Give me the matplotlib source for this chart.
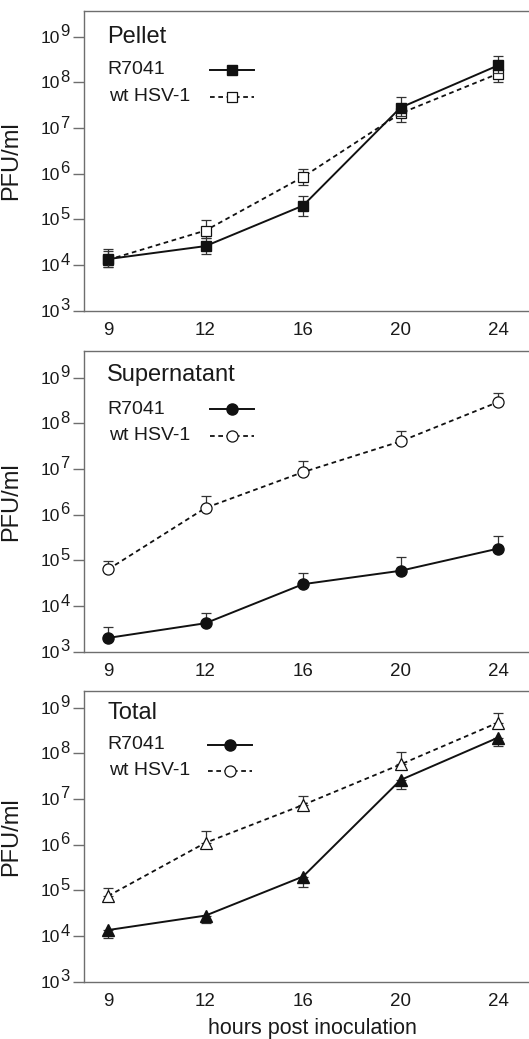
import numpy as np
import matplotlib
matplotlib.use("Agg")
import matplotlib.pyplot as plt

plt.rcParams['font.family'] = ['Liberation Sans', 'DejaVu Sans']

hours = ["9", "12", "16", "20", "24"]
y_exponents = [3, 4, 5, 6, 7, 8, 9]

# Pellet
pellet_r7041 = [1.35e4, 2.6e4, 2.0e5, 2.8e7, 2.35e8]
pellet_r7041_lo = [8.9e3, 1.75e4, 1.17e5, 1.8e7, 1.6e8]
pellet_r7041_hi = [2.2e4, 4.0e4, 3.2e5, 4.9e7, 3.7e8]
pellet_wt = [1.3e4, 5.7e4, 8.5e5, 2.1e7, 1.55e8]
pellet_wt_lo = [8.9e3, 4.0e4, 5.6e5, 1.35e7, 1.02e8]
pellet_wt_hi = [2.0e4, 9.5e4, 1.26e6, 3.2e7, 2.2e8]

# Supernatant
super_r7041 = [2.0e3, 4.2e3, 3.0e4, 5.9e4, 1.8e5]
super_r7041_lo = [2.0e3, 4.2e3, 3.0e4, 5.9e4, 1.8e5]
super_r7041_hi = [3.4e3, 7.1e3, 5.2e4, 1.2e5, 3.4e5]
super_wt = [6.3e4, 1.4e6, 8.5e6, 4.0e7, 2.9e8]
super_wt_lo = [6.3e4, 1.4e6, 8.5e6, 4.0e7, 2.9e8]
super_wt_hi = [9.8e4, 2.6e6, 1.5e7, 6.6e7, 4.6e8]

# Total
total_r7041 = [1.35e4, 2.8e4, 2.0e5, 2.6e7, 2.2e8]
total_r7041_lo = [8.9e3, 1.9e4, 1.2e5, 1.66e7, 1.45e8]
total_r7041_hi = [1.35e4, 2.8e4, 2.0e5, 2.6e7, 2.2e8]
total_wt = [7.5e4, 1.1e6, 7.4e6, 5.7e7, 4.7e8]
total_wt_lo = [7.5e4, 1.1e6, 7.4e6, 5.7e7, 4.7e8]
total_wt_hi = [1.12e5, 2.0e6, 1.17e7, 1.05e8, 7.6e8]

W, H = 529, 1039
fig = plt.figure(figsize=(W / 100, H / 100), dpi=100)

LEFT_PX, RIGHT_PX = 84, 540
SPINE_C = '#6e6e6e'
TXT_C = '#1a1a1a'

panels = [
    dict(title="Pellet", top=10.7, bottom=310.7, ytop=9.57, marker_r='s', marker_w='s',
         leg_marker='s', r=(pellet_r7041, pellet_r7041_lo, pellet_r7041_hi),
         w=(pellet_wt, pellet_wt_lo, pellet_wt_hi), ms=7.5,
         title_y=26, leg_y=(59, 86), leg_x=(210, 254), xlabel=False),
    dict(title="Supernatant", top=351, bottom=651.7, ytop=9.58, marker_r='o', marker_w='o',
         leg_marker='o', r=(super_r7041, super_r7041_lo, super_r7041_hi),
         w=(super_wt, super_wt_lo, super_wt_hi), ms=8.0,
         title_y=24, leg_y=(58, 85), leg_x=(210, 254), xlabel=False),
    dict(title="Total", top=690.7, bottom=981.7, ytop=9.37, marker_r='^', marker_w='^',
         leg_marker='o', r=(total_r7041, total_r7041_lo, total_r7041_hi),
         w=(total_wt, total_wt_lo, total_wt_hi), ms=9.0,
         title_y=22, leg_y=(54, 80), leg_x=(208, 252), xlabel=True),
]

x_data_px = (108, 498)
n = len(hours)
step = (x_data_px[1] - x_data_px[0]) / (n - 1)
xlim = ((LEFT_PX - x_data_px[0]) / step, (RIGHT_PX - x_data_px[0]) / step)

for p in panels:
    h_px = p['bottom'] - p['top']
    ax = fig.add_axes([LEFT_PX / W, 1 - p['bottom'] / H, (RIGHT_PX - LEFT_PX) / W, h_px / H])
    ax.set_yscale('log')
    ax.set_ylim(1e3, 10 ** p['ytop'])
    ax.set_xlim(*xlim)
    x = np.arange(n)

    def ax_xy(px, py):
        return ((px - LEFT_PX) / (RIGHT_PX - LEFT_PX), 1 - py / h_px)

    # wt HSV-1 (dashed, open markers)
    wv, wlo, whi = p['w']
    wv = np.array(wv); wlo = np.array(wlo); whi = np.array(whi)
    ax.errorbar(x, wv, yerr=[wv - wlo, whi - wv], fmt='none', ecolor='#333333',
                elinewidth=0.9, capsize=3.5, capthick=0.9, zorder=2)
    ax.plot(x, wv, linestyle=(0, (2.6, 2.0)), color='#111111', lw=1.3,
            marker=p['marker_w'], ms=p['ms'], mfc='white', mec='#111111', mew=0.9, zorder=3)

    # R7041 (solid, filled markers)
    rv, rlo, rhi = p['r']
    rv = np.array(rv); rlo = np.array(rlo); rhi = np.array(rhi)
    ax.errorbar(x, rv, yerr=[rv - rlo, rhi - rv], fmt='none', ecolor='#333333',
                elinewidth=0.9, capsize=3.5, capthick=0.9, zorder=4)
    ax.plot(x, rv, linestyle='-', color='#111111', lw=1.4,
            marker=p['marker_r'], ms=p['ms'], mfc='#111111', mec='#111111', zorder=5)

    # axes styling
    for s in ax.spines.values():
        s.set_color(SPINE_C)
        s.set_linewidth(1.0)
    ax.set_xticks(x)
    ax.set_xticklabels(hours, fontsize=13.5, color=TXT_C)
    ax.tick_params(axis='x', length=0, pad=8)
    yt = [10.0 ** e for e in y_exponents]
    ax.set_yticks(yt)
    ax.set_yticklabels(["10"] * len(yt), fontsize=12.5, color=TXT_C)
    ax.yaxis.set_minor_locator(matplotlib.ticker.NullLocator())
    ax.tick_params(axis='y', length=8, width=1.0, color=SPINE_C, pad=9.5, direction='out')
    for e, v in zip(y_exponents, yt):
        ax.annotate(str(e), xy=(0, v), xycoords=ax.get_yaxis_transform(),
                    xytext=(-23.5, 5), textcoords='offset pixels',
                    ha='left', va='center', fontsize=12, color=TXT_C)
    ax.set_ylabel("PFU/ml", fontsize=17, color=TXT_C)
    ax.yaxis.set_label_coords((22 - LEFT_PX) / (RIGHT_PX - LEFT_PX), 0.5)
    if p['xlabel']:
        ax.set_xlabel("hours post inoculation", fontsize=15.5, color=TXT_C, labelpad=6)

    # title
    tx, ty = ax_xy(107, p['title_y'])
    ax.text(tx, ty, p['title'], transform=ax.transAxes, fontsize=17, color=TXT_C,
            ha='left', va='center')
    # legend
    lx0, lx1 = p['leg_x']
    y1 = p['leg_y'][0]
    y2 = p['leg_y'][1]
    t1x, t1y = ax_xy(107, y1)
    t2x, t2y = ax_xy(109, y2)
    ax.text(t1x, t1y, "R7041", transform=ax.transAxes, fontsize=14, color=TXT_C,
            ha='left', va='center')
    ax.text(t2x, t2y, "wt HSV-1", transform=ax.transAxes, fontsize=14, color=TXT_C,
            ha='left', va='center')
    a0, b1 = ax_xy(lx0, y1)
    a1, _ = ax_xy(lx1, y1)
    am, _ = ax_xy((lx0 + lx1) / 2, y1)
    _, b2 = ax_xy(lx0, y2)
    lms = p['ms'] if p['leg_marker'] != 'o' else 8.0
    ax.plot([a0, a1], [b1, b1], transform=ax.transAxes, color='#111111', lw=1.4, zorder=5)
    ax.plot([am], [b1], transform=ax.transAxes, marker=p['leg_marker'], ms=lms,
            mfc='#111111', mec='#111111', zorder=6)
    ax.plot([a0, a1], [b2, b2], transform=ax.transAxes, color='#111111', lw=1.3,
            linestyle=(0, (2.6, 2.0)), zorder=5)
    ax.plot([am], [b2], transform=ax.transAxes, marker=p['leg_marker'], ms=lms,
            mfc='white', mec='#111111', mew=0.9, zorder=6)

fig.savefig("out.png", dpi=100)
